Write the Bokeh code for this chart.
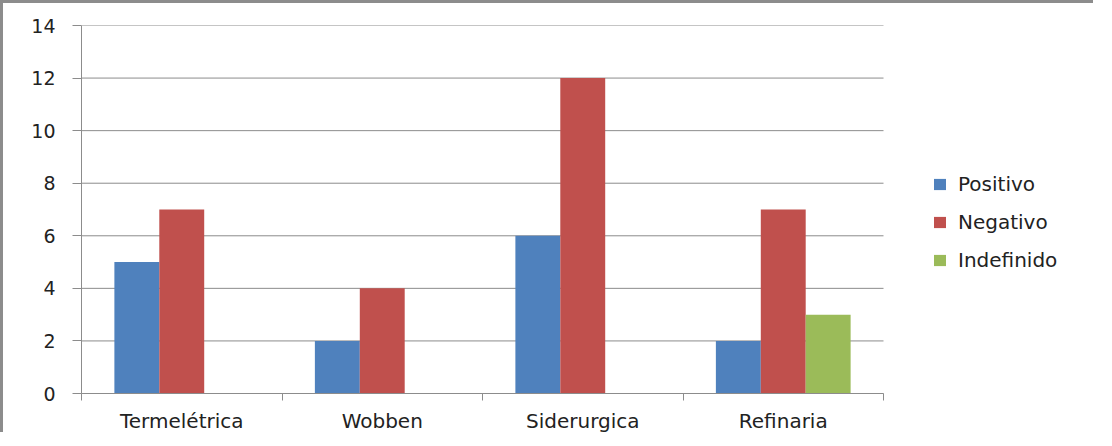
import numpy as np
from bokeh.plotting import figure
from bokeh.models import ColumnDataSource, Range1d, FixedTicker, Legend, LegendItem
from bokeh.embed import file_html
from bokeh.resources import INLINE

categories = ["Termelétrica", "Wobben", "Siderurgica", "Refinaria"]
series = ["Positivo", "Negativo", "Indefinido"]
positivo = [5, 2, 6, 2]
negativo = [7, 4, 12, 7]
indefinido = [0, 0, 0, 3]
colors = ["#4F81BD", "#C0504D", "#9BBB59"]
y_ticks = [0, 2, 4, 6, 8, 10, 12, 14]

values = [positivo, negativo, indefinido]
n = len(categories)
centers = np.arange(n) + 0.5
bar_w = 0.224
offsets = [-bar_w, 0.0, bar_w]

FONT = "DejaVu Sans"
GRID = "#8c8c8c"
TXT = "#222222"

W, H = 1093, 432
LEFT, TOP, BOTTOM = 78, 22, 42
PLOT_W = 802                      # width of the category area in pixels
frame_w = W - LEFT
x_end = n * frame_w / PLOT_W      # extend frame to the right for the legend

p = figure(width=W, height=H, output_backend="svg", toolbar_location=None,
           x_range=Range1d(0, x_end), y_range=Range1d(0, 14),
           min_border_left=LEFT, min_border_right=0, min_border_top=TOP, min_border_bottom=BOTTOM)
p.styles = {"border-left": "3px solid #8c8c8c", "border-top": "3px solid #8c8c8c"}
p.outline_line_color = None
p.background_fill_color = "white"
p.border_fill_color = "white"

# horizontal gridlines limited to the category area
gy = np.array(y_ticks, dtype=float)
p.segment(x0=np.zeros_like(gy), x1=np.full_like(gy, n), y0=gy, y1=gy,
          line_color=GRID, line_width=1)

renderers = []
for s, vals, c, off in zip(series, values, colors, offsets):
    src = ColumnDataSource(dict(x=centers + off, top=vals))
    r = p.vbar(x="x", top="top", width=bar_w, source=src, fill_color=c, line_color=None)
    renderers.append(r)

# x axis: labels at centers, ticks at category boundaries
xa = p.xaxis[0]
xa.bounds = (0, n)
xa.ticker = FixedTicker(ticks=list(centers), minor_ticks=list(range(n + 1)))
xa.major_label_overrides = {float(c): cat for c, cat in zip(centers, categories)}
xa.major_tick_line_color = None
xa.major_tick_out = 0
xa.major_tick_in = 0
xa.minor_tick_line_color = GRID
xa.minor_tick_out = 7
xa.minor_tick_in = 0
xa.axis_line_color = GRID
xa.major_label_text_font = FONT
xa.major_label_text_font_size = "20px"
xa.major_label_text_color = TXT
xa.major_label_standoff = 8

ya = p.yaxis[0]
ya.ticker = FixedTicker(ticks=y_ticks)
ya.major_tick_line_color = GRID
ya.major_tick_out = 9
ya.major_tick_in = 0
ya.minor_tick_line_color = None
ya.axis_line_color = GRID
ya.major_label_text_font = FONT
ya.major_label_text_font_size = "19px"
ya.major_label_text_color = TXT
ya.major_label_standoff = 17

p.xgrid.grid_line_color = None
p.ygrid.grid_line_color = None

legend = Legend(items=[LegendItem(label=s, renderers=[r]) for s, r in zip(series, renderers)],
                location=(851, 118), border_line_color=None, background_fill_alpha=0,
                padding=0, margin=0, spacing=8, label_height=30, glyph_height=14,
                glyph_width=15, label_standoff=11,
                label_text_font=FONT, label_text_font_size="20px", label_text_color=TXT)
p.add_layout(legend, "center")

open("out.html", "w").write(file_html(p, INLINE))
